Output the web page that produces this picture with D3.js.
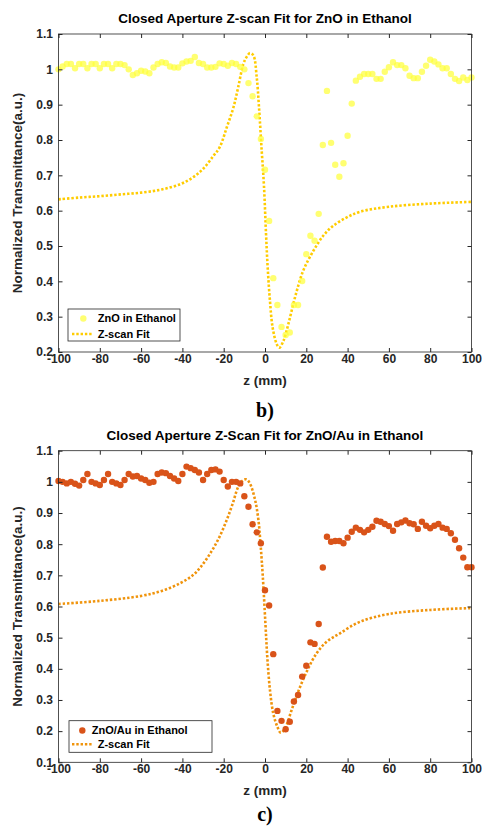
<!DOCTYPE html>
<html>
<head>
<meta charset="utf-8">
<script src="https://cdnjs.cloudflare.com/ajax/libs/d3/7.8.5/d3.min.js"></script>
<style>
body { margin: 0; background: #fff; }
text { font-family: "Liberation Sans", Arial, sans-serif; font-weight: bold; }
</style>
</head>
<body>
<script>
"use strict";
// sample positions of the scan (mm)
const zPositions = [-100, -98, -96, -94, -92, -90, -88, -86, -84, -82, -80, -78, -76, -74, -72, -70, -68, -66, -64, -62,
    -60, -58, -56, -54, -52, -50, -48, -46, -44, -42, -40, -38, -36, -34, -32, -30, -28, -26, -24, -22,
    -20, -18, -16, -14, -12, -10, -8, -6, -4, -2, 0, 2, 4, 6, 8, 10, 12, 14, 16, 18,
    20, 22, 24, 26, 28, 30, 32, 34, 36, 38, 40, 42, 44, 46, 48, 50, 52, 54, 56, 58,
    60, 62, 64, 66, 68, 70, 72, 74, 76, 78, 80, 82, 84, 86, 88, 90, 92, 94, 96, 98, 100]

// b) ZnO in Ethanol, measured transmittance
const znoValues = [1.000, 1.008, 1.015, 1.015, 1.003, 1.015, 1.015, 1.003, 1.015, 1.015, 1.003, 1.015, 1.015, 1.003, 1.015, 1.015, 1.012, 1.000, 0.984, 0.989,
    0.996, 0.994, 0.989, 1.005, 1.015, 1.020, 1.018, 1.008, 1.005, 1.005, 1.017, 1.022, 1.024, 1.035, 1.018, 1.015, 1.005, 1.005, 1.007, 1.017,
    1.015, 1.010, 1.018, 1.015, 1.007, 1.000, 0.961, 0.924, 0.867, 0.803, 0.716, 0.571, 0.409, 0.333, 0.271, 0.248, 0.255, 0.333, 0.333, 0.401,
    0.477, 0.529, 0.515, 0.591, 0.786, 0.939, 0.792, 0.730, 0.696, 0.734, 0.812, 0.903, 0.968, 0.979, 0.987, 0.987, 0.987, 0.973, 0.973, 0.993,
    1.006, 1.020, 1.012, 1.012, 1.003, 0.982, 0.975, 0.975, 0.993, 1.010, 1.027, 1.022, 1.014, 1.003, 1.003, 0.987, 0.973, 0.967, 0.977, 0.970, 0.977]

// c) ZnO/Au in Ethanol, measured transmittance
const znoAuValues = [1.003, 1.000, 0.995, 1.000, 0.994, 0.988, 1.006, 1.025, 1.000, 0.995, 0.990, 1.006, 1.025, 1.000, 0.995, 0.990, 1.006, 1.025, 1.017, 1.019,
    1.011, 1.006, 0.997, 1.000, 1.025, 1.030, 1.028, 1.019, 1.011, 1.003, 1.025, 1.049, 1.044, 1.038, 1.030, 1.006, 1.025, 1.038, 1.040, 1.033,
    1.006, 0.985, 1.000, 1.000, 0.995, 0.954, 0.920, 0.864, 0.838, 0.803, 0.652, 0.603, 0.447, 0.265, 0.233, 0.206, 0.230, 0.295, 0.316, 0.375,
    0.410, 0.485, 0.480, 0.544, 0.725, 0.824, 0.808, 0.810, 0.810, 0.803, 0.821, 0.840, 0.853, 0.846, 0.838, 0.846, 0.856, 0.875, 0.872, 0.865,
    0.858, 0.843, 0.865, 0.870, 0.876, 0.867, 0.864, 0.849, 0.872, 0.859, 0.851, 0.859, 0.865, 0.853, 0.849, 0.835, 0.814, 0.787, 0.757, 0.726, 0.726]

// fit curves
const znoFitZ = [-100, -90, -80, -70, -60, -50, -41, -35, -30, -25, -22, -18.5, -15.3, -13, -10.5, -9, -7.3, -5.6, -4, -2.9,
    -1.6, -0.5, 0.5, 1.3, 2.4, 3.7, 5.7, 6.9, 8.9, 11.3, 14.5, 18.5, 23.4, 28.2, 33, 39.6, 46, 60, 80, 100]
const znoFitValues = [0.632, 0.637, 0.641, 0.646, 0.651, 0.660, 0.675, 0.694, 0.718, 0.755, 0.779, 0.836, 0.892, 0.949, 1.015, 1.034, 1.046, 1.039, 0.977, 0.892,
    0.770, 0.670, 0.534, 0.439, 0.345, 0.269, 0.222, 0.212, 0.231, 0.279, 0.354, 0.430, 0.486, 0.529, 0.557, 0.581, 0.597, 0.611, 0.620, 0.625]

const znoAuFitZ = [-100, -80, -60, -50, -41, -35, -31, -26, -22, -18.5, -15.6, -12.9, -10.5, -8.9, -7.3, -4.8, -3.2, -2.2, -1.1, 0.2,
    1.1, 2.4, 4, 6, 7.6, 9.7, 12.9, 16.1, 20.2, 25, 29.9, 36.3, 46, 60, 80, 100]
const znoAuFitValues = [0.608, 0.618, 0.634, 0.650, 0.675, 0.700, 0.728, 0.776, 0.824, 0.878, 0.931, 0.985, 1.006, 1.008, 0.995, 0.942, 0.878, 0.803, 0.700, 0.546,
    0.439, 0.332, 0.257, 0.214, 0.195, 0.209, 0.268, 0.327, 0.391, 0.450, 0.487, 0.514, 0.551, 0.576, 0.589, 0.595]

const xTicks = [-100, -80, -60, -40, -20, 0, 20, 40, 60, 80, 100]
const xTickLabels = ["-100", "-80", "-60", "-40", "-20", "0", "20", "40", "60", "80", "100"]
const yTicksTop = [0.2, 0.3, 0.4, 0.5, 0.6, 0.7, 0.8, 0.9, 1.0, 1.1]
const yTickLabelsTop = ["0.2", "0.3", "0.4", "0.5", "0.6", "0.7", "0.8", "0.9", "1", "1.1"]
const yTicksBottom = [0.1, 0.2, 0.3, 0.4, 0.5, 0.6, 0.7, 0.8, 0.9, 1.0, 1.1]
const yTickLabelsBottom = ["0.1", "0.2", "0.3", "0.4", "0.5", "0.6", "0.7", "0.8", "0.9", "1", "1.1"]

;(function(){
    const measurements = {
        width: 482,
        height: 827,
        left: 58.5,
        right: 471.5
    }

    const svg = d3.select('body').append('svg')
        .attr('width', measurements.width)
        .attr('height', measurements.height)

    drawPanel({
        top: 34, bottom: 352,
        yDomain: [0.2, 1.1], yTicks: yTicksTop, yTickLabels: yTickLabelsTop,
        title: "Closed Aperture Z-scan Fit for ZnO in Ethanol",
        values: znoValues, fitZ: znoFitZ, fitValues: znoFitValues,
        pointColor: "#ffff3a", pointOpacity: 0.72, fitColor: "#ffcc00",
        caption: "b)", captionY: 417,
        legend: { x: 68, y: 309, w: 112, h: 32, row1: 318.5, row2: 334, markerX: 83.3, text1X: 97.7, text2X: 97.7,
                  label: "ZnO in Ethanol" }
    })

    drawPanel({
        top: 450.7, bottom: 762.3,
        yDomain: [0.1, 1.1], yTicks: yTicksBottom, yTickLabels: yTickLabelsBottom,
        title: "Closed Aperture Z-Scan Fit for ZnO/Au in Ethanol",
        values: znoAuValues, fitZ: znoAuFitZ, fitValues: znoAuFitValues,
        pointColor: "#d95319", pointOpacity: 1, fitColor: "#f0940c",
        caption: "c)", captionY: 821,
        legend: { x: 69, y: 720.7, w: 143, h: 31.6, row1: 730.5, row2: 744.3, markerX: 82.3, text1X: 91.7, text2X: 97.7,
                  label: "ZnO/Au in Ethanol" }
    })

    function drawPanel(p) {
        const scaleX = d3.scaleLinear()
            .domain([-100, 100])
            .range([measurements.left, measurements.right])
        const scaleY = d3.scaleLinear()
            .domain(p.yDomain)
            .range([p.bottom, p.top])

        const g = svg.append('g')

        // fit curve (dotted)
        const fitData = p.fitZ.map((z, i) => ({ z: z, v: p.fitValues[i] }))
        const line = d3.line()
            .x((d) => scaleX(d.z))
            .y((d) => scaleY(d.v))
            .curve(d3.curveCatmullRom.alpha(0.5))
        g.append('path')
            .datum(fitData)
            .attr('d', line)
            .attr('fill', 'none')
            .attr('stroke', p.fitColor)
            .attr('stroke-width', 2.6)
            .attr('stroke-dasharray', '2.4,1.9')

        // measured points
        g.selectAll('.pt')
            .data(p.values)
            .enter()
            .append('circle')
                .attr('cx', (d, i) => scaleX(zPositions[i]))
                .attr('cy', (d) => scaleY(d))
                .attr('r', 3.2)
                .attr('fill', p.pointColor)
                .attr('fill-opacity', p.pointOpacity)

        // axes with inward ticks on all four sides
        const axisColor = "#262626"
        g.append('g')
            .attr('transform', `translate(0,${p.bottom})`)
            .call(d3.axisBottom(scaleX).tickValues(xTicks)
                .tickFormat((d, i) => xTickLabels[i])
                .tickSizeInner(-4).tickSizeOuter(0).tickPadding(2.5))
        g.append('g')
            .attr('transform', `translate(0,${p.top})`)
            .call(d3.axisTop(scaleX).tickValues(xTicks).tickFormat('')
                .tickSizeInner(-4).tickSizeOuter(0))
        g.append('g')
            .attr('transform', `translate(${measurements.left},0)`)
            .call(d3.axisLeft(scaleY).tickValues(p.yTicks)
                .tickFormat((d, i) => p.yTickLabels[i])
                .tickSizeInner(-4).tickSizeOuter(0).tickPadding(5.5))
        g.append('g')
            .attr('transform', `translate(${measurements.right},0)`)
            .call(d3.axisRight(scaleY).tickValues(p.yTicks).tickFormat('')
                .tickSizeInner(-4).tickSizeOuter(0))

        g.selectAll('.domain').remove()
        g.selectAll('.tick line').attr('stroke', axisColor)
        g.selectAll('.tick text')
            .attr('fill', axisColor)
            .style('font-size', '12px')

        g.append('rect')
            .attr('x', measurements.left)
            .attr('y', p.top)
            .attr('width', measurements.right - measurements.left)
            .attr('height', p.bottom - p.top)
            .attr('fill', 'none')
            .attr('stroke', axisColor)
            .attr('stroke-width', 0.8)

        // legend
        const lg = p.legend
        g.append('rect')
            .attr('x', lg.x).attr('y', lg.y)
            .attr('width', lg.w).attr('height', lg.h)
            .attr('fill', '#fff')
            .attr('stroke', axisColor)
            .attr('stroke-width', 0.8)
        g.append('circle')
            .attr('cx', lg.markerX).attr('cy', lg.row1)
            .attr('r', 3.2)
            .attr('fill', p.pointColor)
            .attr('fill-opacity', p.pointOpacity)
        g.append('line')
            .attr('x1', 72).attr('x2', 93)
            .attr('y1', lg.row2).attr('y2', lg.row2)
            .attr('stroke', p.fitColor)
            .attr('stroke-width', 2.6)
            .attr('stroke-dasharray', '2.4,1.9')
        g.append('text')
            .attr('x', lg.text1X).attr('y', lg.row1)
            .attr('dy', '0.35em')
            .style('font-size', '11px')
            .text(lg.label)
        g.append('text')
            .attr('x', lg.text2X).attr('y', lg.row2)
            .attr('dy', '0.35em')
            .style('font-size', '11px')
            .text("Z-scan Fit")

        // title and labels
        const midX = (measurements.left + measurements.right) / 2
        g.append('text')
            .attr('x', midX).attr('y', p.top - 11)
            .attr('text-anchor', 'middle')
            .style('font-size', '13.5px')
            .text(p.title)
        g.append('text')
            .attr('x', midX).attr('y', p.bottom + 32.5)
            .attr('text-anchor', 'middle')
            .attr('fill', axisColor)
            .style('font-size', '13.5px')
            .text("z (mm)")
        g.append('text')
            .attr('transform', `translate(17,${(p.top + p.bottom) / 2}) rotate(-90)`)
            .attr('text-anchor', 'middle')
            .attr('dy', '0.35em')
            .attr('fill', axisColor)
            .style('font-size', '13.5px')
            .text("Normalized Transmittance(a.u.)")
        g.append('text')
            .attr('x', midX).attr('y', p.captionY)
            .attr('text-anchor', 'middle')
            .style('font-family', '"Liberation Serif", "Times New Roman", serif')
            .style('font-size', '20px')
            .text(p.caption)
    }
})()
</script>
</body>
</html>
